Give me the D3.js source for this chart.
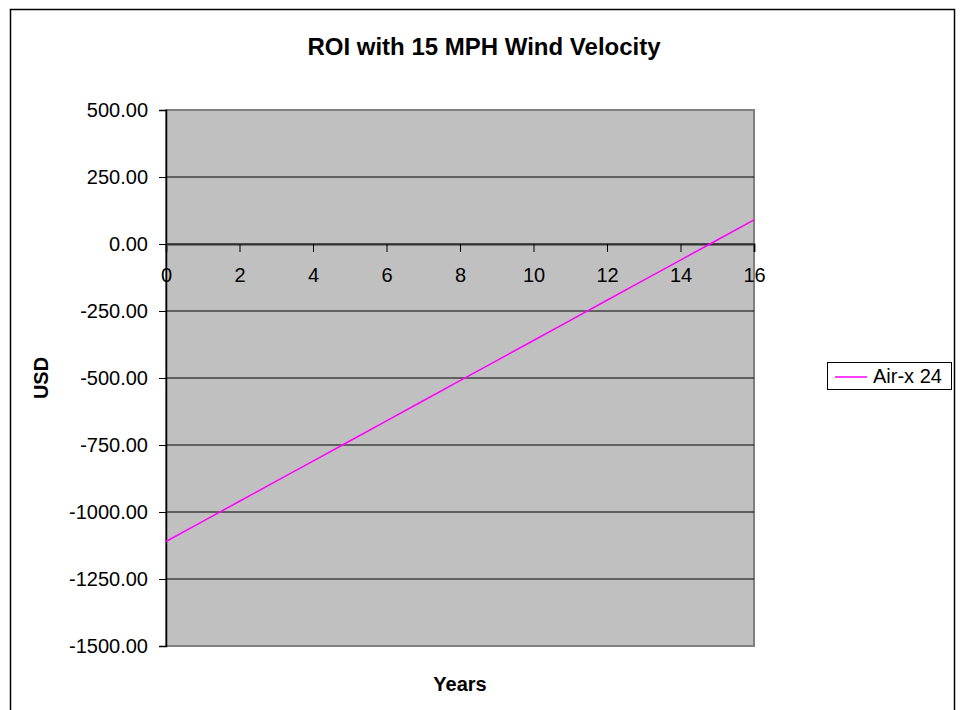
<!DOCTYPE html>
<html>
<head>
<meta charset="utf-8">
<script src="https://cdn.jsdelivr.net/npm/d3@7"></script>
<style>
  body { margin: 0; background: #fff; }
  svg { display: block; font-family: "Liberation Sans", Arial, sans-serif; }
</style>
</head>
<body>
<svg id="chart" width="962" height="710"></svg>
<script>
// 数据
const years = [0, 1, 2, 3, 4, 5, 6, 7, 8, 9, 10, 11, 12, 13, 14, 15, 16];
const roiValues = [-1110, -1035, -960, -885, -810, -735, -660, -585, -510, -435, -360, -285, -210, -135, -60, 15, 90];
const yTicks = [500, 250, 0, -250, -500, -750, -1000, -1250, -1500];
const xTicks = [0, 2, 4, 6, 8, 10, 12, 14, 16];
const seriesName = "Air-x 24";

const FONT = "'Liberation Sans', Arial, sans-serif";
const svg = d3.select("#chart");

// 外框
svg.append("rect")
  .attr("x", 10.5).attr("y", 9.5)
  .attr("width", 944).attr("height", 720)
  .attr("fill", "none").attr("stroke", "#000").attr("stroke-width", 1.5);

const plot = { left: 166, top: 110, right: 754, bottom: 646 };

const x = d3.scaleLinear().domain([0, 16]).range([plot.left, plot.right]);
const y = d3.scaleLinear().domain([-1500, 500]).range([plot.bottom, plot.top]);

// 绘图区背景
svg.append("rect")
  .attr("x", plot.left).attr("y", plot.top)
  .attr("width", plot.right - plot.left).attr("height", plot.bottom - plot.top)
  .attr("fill", "#c0c0c0")
  .attr("stroke", "#808080").attr("stroke-width", 2);

// 网格线
svg.append("g")
  .selectAll("line")
  .data(yTicks.filter(d => d !== 500 && d !== -1500))
  .join("line")
  .attr("x1", plot.left).attr("x2", plot.right)
  .attr("y1", d => y(d)).attr("y2", d => y(d))
  .attr("stroke", "#000").attr("stroke-width", 1);

// Y 轴（用普通连字符作负号）
const fmt = d3.format(".2f");
const yAxis = svg.append("g")
  .attr("transform", `translate(${plot.left},0)`)
  .call(d3.axisLeft(y).tickValues(yTicks)
    .tickFormat(d => fmt(d).replace("\u2212", "-"))
    .tickSizeOuter(0).tickSize(7).tickPadding(11));
yAxis.select(".domain").attr("stroke", "#000").attr("stroke-width", 1.5);
yAxis.selectAll(".tick line").attr("stroke", "#000");
yAxis.selectAll("text").attr("font-size", 20).attr("fill", "#000").attr("font-family", FONT);

// X 轴（位于 y=0）
const xAxis = svg.append("g")
  .attr("transform", `translate(0,${y(0)})`)
  .call(d3.axisBottom(x).tickValues(xTicks).tickSizeOuter(0).tickSize(8).tickPadding(16));
xAxis.select(".domain").attr("stroke", "#333").attr("stroke-width", 2);
xAxis.selectAll(".tick line").attr("stroke", "#000");
xAxis.selectAll("text").attr("font-size", 20).attr("fill", "#000").attr("font-family", FONT);

// 折线
const line = d3.line()
  .x((d, i) => x(years[i]))
  .y(d => y(d));

svg.append("path")
  .datum(roiValues)
  .attr("d", line)
  .attr("fill", "none")
  .attr("stroke", "#ff00ff")
  .attr("stroke-width", 1.5);

// 标题
svg.append("text")
  .attr("x", 484).attr("y", 55)
  .attr("text-anchor", "middle")
  .attr("font-size", 24).attr("font-weight", "bold")
  .text("ROI with 15 MPH Wind Velocity");

// 轴标题
svg.append("text")
  .attr("x", 460).attr("y", 691)
  .attr("text-anchor", "middle")
  .attr("font-size", 20).attr("font-weight", "bold")
  .text("Years");

svg.append("text")
  .attr("transform", `translate(48,${(plot.top + plot.bottom) / 2}) rotate(-90)`)
  .attr("text-anchor", "middle")
  .attr("font-size", 20).attr("font-weight", "bold")
  .text("USD");

// 图例
const legend = svg.append("g").attr("transform", "translate(827,362)");
legend.append("rect")
  .attr("x", 0.5).attr("y", 0.5)
  .attr("width", 124).attr("height", 27)
  .attr("fill", "#fff").attr("stroke", "#000").attr("stroke-width", 1);
legend.append("line")
  .attr("x1", 8).attr("x2", 40)
  .attr("y1", 15).attr("y2", 15)
  .attr("stroke", "#ff00ff").attr("stroke-width", 1.5);
legend.append("text")
  .attr("x", 46).attr("y", 21)
  .attr("font-size", 20)
  .text(seriesName);
</script>
</body>
</html>
